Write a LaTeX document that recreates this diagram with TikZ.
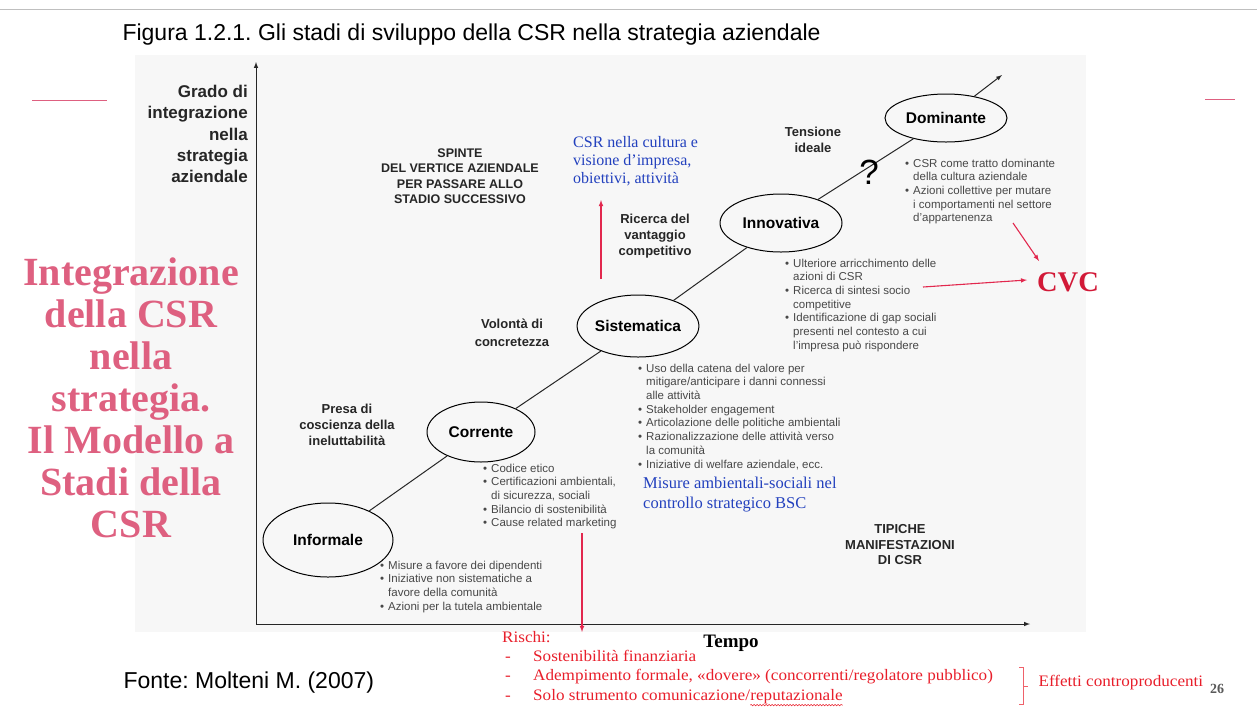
\documentclass[tikz,border=0pt]{standalone}
\usepackage{fontspec}
\setmainfont{Liberation Serif}
\setsansfont{Liberation Sans}
\newfontfamily\riskfont[FakeStretch=1.07]{Liberation Serif}
\usetikzlibrary{shapes.geometric,decorations.pathmorphing}
\frenchspacing

\definecolor{titlepink}{RGB}{222,96,128}
\definecolor{arrowred}{RGB}{226,40,78}
\definecolor{cvcred}{RGB}{210,25,55}
\definecolor{riskred}{RGB}{232,30,42}
\definecolor{noteblue}{RGB}{35,65,190}
\definecolor{listgray}{RGB}{72,72,72}

\newcommand{\bul}{\makebox[8pt][l]{\textbullet}}
\newcommand{\ind}{\hspace*{8pt}}
\newcommand{\rdash}{\hspace*{3pt}\makebox[28pt][l]{-}}

\tikzset{
	stage/.style={ellipse, draw=black, line width=1pt, inner sep=0pt, font=\sffamily\bfseries\fontsize{15.5}{18}\selectfont},
	push/.style={align=center, font=\sffamily\bfseries\fontsize{13}{16}\selectfont, text=black!85},
	caps/.style={align=center, font=\sffamily\bfseries\fontsize{12.5}{15.4}\selectfont, text=black!85},
	items/.style={align=left, anchor=north west, inner sep=0pt, font=\sffamily\fontsize{11.5}{13.7}\selectfont, text=listgray},
	bluenote/.style={align=left, anchor=north west, inner sep=0pt, text=noteblue},
	trend/.style={line width=1pt, black!85},
	redarrow/.style={arrowred, line width=1.1pt, -latex},
	axis/.style={line width=1pt, black!85, -latex},
}

\begin{document}
\begin{tikzpicture}[x=1pt, y=-1pt]
		%%%%% START %%%%%
		\useasboundingbox (0,0) rectangle (1257,713);
		\fill[black!3] (135,55) rectangle (1086,632);
		\draw[black!25, line width=1pt] (0,9) -- (1257,9);
		\draw[titlepink, line width=1pt] (32,100) -- (107,100);
		\draw[titlepink, line width=1pt] (1205,99) -- (1235,99);
		
		\node[font=\sffamily\fontsize{23}{27}\selectfont, anchor=west] (title) at (119,35) {Figura 1.2.1. Gli stadi di sviluppo della CSR nella strategia aziendale};
		\node[font=\sffamily\fontsize{23}{27}\selectfont, anchor=west] (source) at (120,683) {Fonte: Molteni M. (2007)};
		
		\node[align=center, font=\bfseries\fontsize{40}{42}\selectfont, text=titlepink] (topic) at (131,398) {Integrazione\\della CSR\\nella\\strategia.\\Il Modello a\\Stadi della\\CSR};
		
		% axes
		\coordinate (origin) at (256,624);
		\coordinate (ytip) at (256,62);
		\coordinate (xtip) at (1030,624);
		\draw[axis] (origin) -- (ytip);
		\draw[axis] (origin) -- (xtip);
		\node[align=right, anchor=north east, inner sep=0pt, font=\sffamily\bfseries\fontsize{17}{21.3}\selectfont, text=black!85] (ylab) at (248,85) {Grado di\\integrazione\\nella\\strategia\\aziendale};
		\node[font=\bfseries\fontsize{19}{22}\selectfont] (time) at (731,643) {Tempo};
		
		% stages
		\node[stage, minimum width=130pt, minimum height=74pt] (inf) at (328,540) {Informale};
		\node[stage, minimum width=108pt, minimum height=60pt] (cor) at (481,432) {Corrente};
		\node[stage, minimum width=121pt, minimum height=62pt] (sis) at (638,326) {Sistematica};
		\node[stage, minimum width=122pt, minimum height=58pt] (inn) at (781,223) {Innovativa};
		\node[stage, minimum width=122pt, minimum height=48pt] (dom) at (946,118) {Dominante};
		\coordinate (beyond) at (1002,75);
		\draw[trend] (inf) -- (cor);
		\draw[trend] (cor) -- (sis);
		\draw[trend] (sis) -- (inn);
		\draw[trend] (inn) -- (dom);
		\draw[trend, -latex] (dom) -- (beyond);
		\node[font=\sffamily\fontsize{35}{35}\selectfont] (qmark) at (869,172) {?};
		
		% drivers
		\node[caps] (spinte) at (460,176) {SPINTE\\DEL VERTICE AZIENDALE\\PER PASSARE ALLO\\STADIO SUCCESSIVO};
		\node[push] (tension) at (813,140) {Tensione\\ideale};
		\node[push] (seek) at (655,236) {Ricerca del\\vantaggio\\competitivo};
		\node[push] (will) at (512,333) {Volontà di\\[1.5pt]concretezza};
		\node[push] (aware) at (347,425) {Presa di\\coscienza della\\ineluttabilità};
		\node[caps, font=\sffamily\bfseries\fontsize{13}{15.5}\selectfont] (typical) at (900,545) {TIPICHE\\MANIFESTAZIONI\\DI CSR};
		
		% manifestations
		\node[items] (inf-list) at (380,560.5) {\bul Misure a favore dei dipendenti\\\bul Iniziative non sistematiche a\\\ind favore della comunità\\\bul Azioni per la tutela ambientale};
		\node[items] (cor-list) at (483,463.6) {\bul Codice etico\\\bul Certificazioni ambientali,\\\ind di sicurezza, sociali\\\bul Bilancio di sostenibilità\\\bul Cause related marketing};
		\node[items] (sis-list) at (638,363.6) {\bul Uso della catena del valore per\\\ind mitigare/anticipare i danni connessi\\\ind alle attività\\\bul Stakeholder engagement\\\bul Articolazione delle politiche ambientali\\\bul Razionalizzazione delle attività verso\\\ind la comunità\\\bul Iniziative di welfare aziendale, ecc.};
		\node[items] (inn-list) at (785,258.6) {\bul Ulteriore arricchimento delle\\\ind azioni di CSR\\\bul Ricerca di sintesi socio\\\ind competitive\\\bul Identificazione di gap sociali\\\ind presenti nel contesto a cui\\\ind l’impresa può rispondere};
		\node[items] (dom-list) at (905,158.6) {\bul CSR come tratto dominante\\\ind della cultura aziendale\\\bul Azioni collettive per mutare\\\ind i comportamenti nel settore\\\ind d’appartenenza};
		
		% notes
		\node[bluenote, font=\fontsize{16}{18}\selectfont] (vision) at (573,136) {CSR nella cultura e\\visione d’impresa,\\obiettivi, attività};
		\node[bluenote, font=\fontsize{16.5}{20}\selectfont] (bsc) at (643,477) {Misure ambientali-sociali nel\\controllo strategico BSC};
		\node[font=\bfseries\fontsize{28.5}{30}\selectfont, text=cvcred, inner sep=1pt] (cvc) at (1068,282) {CVC};
		
		\coordinate (vision-foot) at (601,279);
		\coordinate (vision-tip) at (601,200);
		\coordinate (dom-foot) at (1013,223);
		\coordinate (cvc-top) at (1039,261);
		\coordinate (inn-foot) at (923,287);
		\coordinate (cvc-left) at (1027,280);
		\coordinate (risk-foot) at (582,533);
		\coordinate (risk-tip) at (582,632);
		\draw[redarrow] (vision-foot) -- (vision-tip);
		\draw[redarrow] (dom-foot) -- (cvc-top);
		\draw[redarrow] (inn-foot) -- (cvc-left);
		\draw[redarrow] (risk-foot) -- (risk-tip);
		
		% risks
		\node[anchor=north west, align=left, inner sep=0pt, font=\riskfont\fontsize{16}{19.3}\selectfont, text=riskred] (risks) at (502,631) {Rischi:\\\rdash Sostenibilità finanziaria\\\rdash Adempimento formale, «dovere» (concorrenti/regolatore pubblico)};
		\node[anchor=base west, inner sep=0pt, font=\riskfont\fontsize{16}{19.3}\selectfont, text=riskred] (solo) at (502,700.5) {\rdash Solo strumento comunicazione/};
		\node[anchor=base west, inner sep=0pt, font=\riskfont\fontsize{16}{19.3}\selectfont, text=riskred] (repword) at (solo.base east) {reputazionale};
		\draw[riskred, line width=0.5pt, decorate, decoration={snake, amplitude=0.7pt, segment length=3pt}] ([yshift=-1pt]repword.south west) -- ([yshift=-1pt]repword.south east);
		\draw[riskred!70, line width=0.8pt] (1019,667) -- (1023,667) -- (1023,704) -- (1019,704);
		\draw[riskred!70, line width=0.8pt] (1023,686) -- (1028,686);
		\node[anchor=west, font=\riskfont\fontsize{16}{19}\selectfont, text=riskred] (effects) at (1035,683) {Effetti controproducenti};
		\node[font=\bfseries\fontsize{14}{16}\selectfont, text=black!65] (pagenum) at (1217,689) {26};
		%%%%% END %%%%%
\end{tikzpicture}
\end{document}
